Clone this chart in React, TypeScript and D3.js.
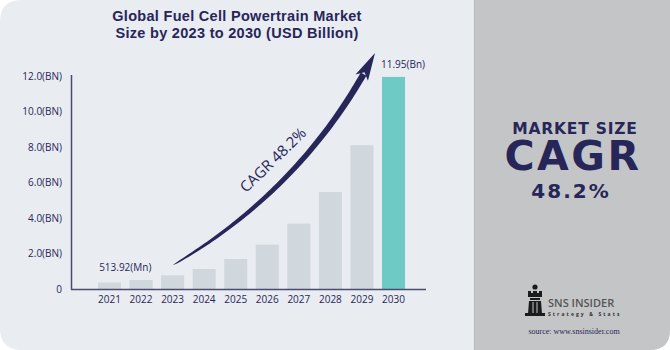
import React from "react";
import * as d3 from "d3";

const years = ["2021", "2022", "2023", "2024", "2025", "2026", "2027", "2028", "2029", "2030"];
const values = [0.36, 0.51, 0.77, 1.13, 1.69, 2.5, 3.68, 5.46, 8.1, 11.95];
const yTicks = [0, 2, 4, 6, 8, 10, 12];
const yTickLabels = ["0", "2.0(BN)", "4.0(BN)", "6.0(BN)", "8.0(BN)", "10.0(BN)", "12.0(BN)"];
const titleLines = ["Global Fuel Cell Powertrain Market", "Size by 2023 to 2030 (USD Billion)"];
const startLabel = "513.92(Mn)";
const endLabel = "11.95(Bn)";
const cagrText = "CAGR 48.2%";

const NAVY = "#272659";
const FONT = "'Open Sans', 'DejaVu Sans', sans-serif";
const WIDE = "'DejaVu Sans', sans-serif";
const TITLE = "'Liberation Sans', Arial, sans-serif";

export default function App() {
  const W = 670, H = 350;
  const x = d3.scaleBand<string>().domain(years).range([82.2, 420.8]).paddingInner(0.271).paddingOuter(0.5);
  const y = d3.scaleLinear().domain([0, 12]).range([289, 76]);
  const bw = x.bandwidth();

  // decorative growth arrow anchored to bars
  const p0: [number, number] = [(x("2023") as number) + bw / 2, y(values[2]) - 10];
  const p2: [number, number] = [(x("2030") as number) - 7, y(12) - 23];
  const p1: [number, number] = [306, 187];
  const bez = (t: number): [number, number] => [
    (1 - t) * (1 - t) * p0[0] + 2 * (1 - t) * t * p1[0] + t * t * p2[0],
    (1 - t) * (1 - t) * p0[1] + 2 * (1 - t) * t * p1[1] + t * t * p2[1],
  ];
  const der = (t: number): [number, number] => [
    2 * (1 - t) * (p1[0] - p0[0]) + 2 * t * (p2[0] - p1[0]),
    2 * (1 - t) * (p1[1] - p0[1]) + 2 * t * (p2[1] - p1[1]),
  ];
  const tEnd = 0.92;
  const left: [number, number][] = [];
  const right: [number, number][] = [];
  const N = 60;
  for (let i = 0; i <= N; i++) {
    const t = (i / N) * tEnd;
    const [px, py] = bez(t);
    const [dx, dy] = der(t);
    const len = Math.hypot(dx, dy);
    const nx = -dy / len, ny = dx / len;
    const w = 6.5 * Math.pow(t / tEnd, 0.4);
    left.push([px + nx * w / 2, py + ny * w / 2]);
    right.push([px - nx * w / 2, py - ny * w / 2]);
  }
  const shaft = d3.line()([...left, ...right.reverse()]) + "Z";
  const [bx, by] = bez(tEnd);
  const [ddx, ddy] = der(1);
  const dl = Math.hypot(ddx, ddy);
  const ux = ddx / dl, uy = ddy / dl;
  const nx = -uy, ny = ux;
  const back = 4;
  const head = d3.line()([
    [p2[0], p2[1]],
    [bx - ux * back + nx * 7, by - uy * back + ny * 7],
    [bx + ux * 2, by + uy * 2],
    [bx - ux * back - nx * 7, by - uy * back - ny * 7],
  ]) + "Z";

  const leftPanel = `M0,22 Q0,0 22,0 L474,0 L474,350 L22,350 Q0,350 0,328 Z`;
  const rightPanel = `M474,0 L670,0 L670,330 Q670,350 650,350 L474,350 Z`;

  return (
    <svg width={W} height={H} style={{ position: "absolute", left: 0, top: 0 }} fontFamily={FONT}>
      <rect x={0} y={0} width={W} height={H} fill="#ffffff" />
      <path d={leftPanel} fill="#e9ecf1" />
      <path d={rightPanel} fill="#c4c5c7" />
      <line x1={474.5} x2={474.5} y1={0} y2={350} stroke="#b9babc" strokeWidth={1} />

      {titleLines.map((t, i) => (
        <text key={i} x={237} y={21 + i * 17} textAnchor="middle" fontSize={14.5} fontWeight={700}
          fontFamily={TITLE} letterSpacing={0.3} fill={NAVY}>
          {t}
        </text>
      ))}

      {years.map((yr, i) => (
        <rect key={yr} x={x(yr)} y={y(values[i])} width={bw} height={y(0) - y(values[i])}
          fill={i === years.length - 1 ? "#6dcac4" : "#d0d7dd"} />
      ))}

      <line x1={71.5} x2={71.5} y1={75} y2={289.5} stroke="#4a4a72" strokeWidth={1.5} />
      <line x1={71} x2={426} y1={289.5} y2={289.5} stroke="#4a4a72" strokeWidth={1.5} />

      {yTicks.map((v, i) => (
        <text key={v} x={62} y={y(v)} dy="0.35em" textAnchor="end" fontSize={10} fill={NAVY}>
          {yTickLabels[i]}
        </text>
      ))}
      {years.map((yr) => (
        <text key={yr} x={(x(yr) as number) + bw / 2} y={299} dy="0.35em" textAnchor="middle" fontSize={10} fill={NAVY}>
          {yr}
        </text>
      ))}

      <text x={((x("2021") as number) + (x("2022") as number) + bw) / 2} y={271} textAnchor="middle" fontSize={10} fill={NAVY}>
        {startLabel}
      </text>
      <text x={(x("2030") as number) - 1} y={68} fontSize={10} fill={NAVY}>
        {endLabel}
      </text>

      <path d={shaft} fill={NAVY} />
      <path d={head} fill={NAVY} />
      <text x={273} y={160} textAnchor="middle" dy="0.35em" fontSize={15} fill={NAVY}
        transform="rotate(-44 273 160)">
        {cagrText}
      </text>

      <text x={575} y={134} textAnchor="middle" fontSize={15.5} fontWeight={700} fontFamily={WIDE} letterSpacing={0.8} fill={NAVY}>MARKET SIZE</text>
      <text x={573} y={170} textAnchor="middle" fontSize={41} fontWeight={700} fontFamily={WIDE} letterSpacing={2.5} fill={NAVY}>CAGR</text>
      <text x={571} y={198} textAnchor="middle" fontSize={20} fontWeight={700} fontFamily={WIDE} letterSpacing={2} fill={NAVY}>48.2%</text>

      {/* logo */}
      <g fill="#1b1b1b">
        <circle cx={535} cy={287} r={2.6} />
        <path d="M528,291 h3 v2 h2 v-2 h4 v2 h2 v-2 h3 v6 h-14 Z" />
        <rect x={530} y={298} width={10} height={2} />
        <path d="M529,301 h12 l1,13 h-14 Z" />
        <rect x={525} y={313} width={20} height={3} />
      </g>
      <g stroke="#c4c5c7" strokeWidth={1}>
        <line x1={533} x2={533} y1={302} y2={313} />
        <line x1={537} x2={537} y1={302} y2={313} />
      </g>
      <text x={548} y={307} fontSize={11} fontWeight={600} fill="#555555">SNS INSIDER</text>
      <text x={548} y={316} fontSize={5} fontWeight={700} fill="#333333" letterSpacing={2.1}>Strategy &amp; Stats</text>
      <text x={574} y={334} textAnchor="middle" fontSize={8} fontFamily="'Liberation Serif', serif" fill={NAVY}>
        source: www.snsinsider.com
      </text>
    </svg>
  );
}
